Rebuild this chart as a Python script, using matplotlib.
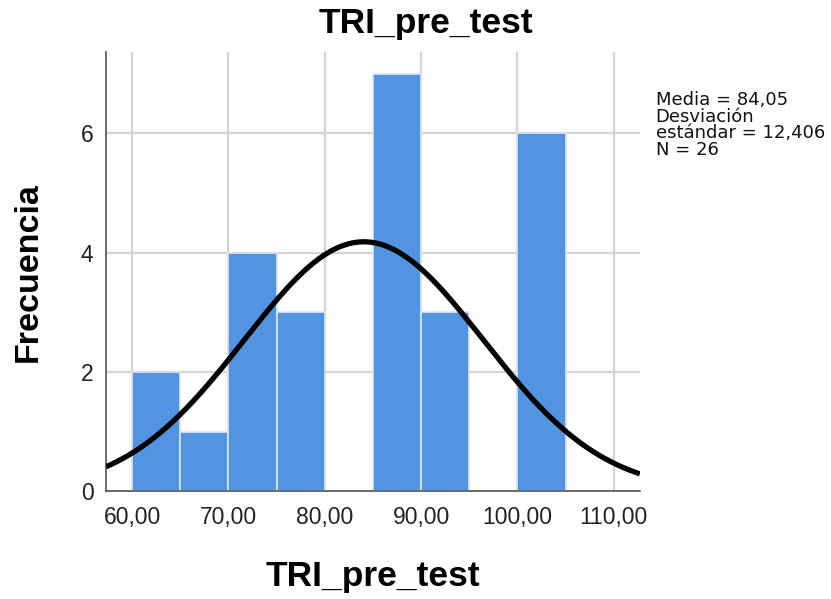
import numpy as np
import matplotlib as mpl
mpl.use('Agg')
import matplotlib.pyplot as plt

plt.rcParams['font.family'] = ['Liberation Sans', 'DejaVu Sans']

bin_edges = [60, 65, 70, 75, 80, 85, 90, 95, 100, 105]
counts = [2, 1, 4, 3, 0, 7, 3, 0, 6]
media = 84.05
desv = 12.406
n = 26
xticks = [60, 70, 80, 90, 100, 110]
yticks = [0, 2, 4, 6]

fig = plt.figure(figsize=(8.31, 5.99), dpi=100)
ax = fig.add_axes([0.1276, 0.180, 0.6424, 0.733])

for x in xticks:
    ax.axvline(x, color='#d4d4d4', lw=1.6, zorder=0)
for y in yticks:
    ax.axhline(y, color='#d4d4d4', lw=1.6, zorder=0)

lefts = bin_edges[:-1]
widths = np.diff(bin_edges)
ax.bar(lefts, counts, width=widths, align='edge', color='#5294e2',
       edgecolor='#dde6f0', linewidth=1.2, zorder=2)

# curva normal escalada a frecuencias
xs = np.linspace(57.3, 112.7, 300)
bw = 5
ys = n * bw / (desv * np.sqrt(2 * np.pi)) * np.exp(-0.5 * ((xs - media) / desv) ** 2)
ax.plot(xs, ys, color='black', lw=3.8, zorder=3, solid_capstyle='butt')

ax.set_xlim(57.3, 112.7)
ax.set_ylim(0, 7.36)
ax.set_xticks(xticks)
ax.set_xticklabels(['%d,00' % v for v in xticks])
ax.set_yticks(yticks)
ax.tick_params(axis='x', length=0, labelsize=16.5, colors='#222222', pad=11)
ax.tick_params(axis='y', length=0, labelsize=16.5, colors='#222222', pad=9)
for s in ['top', 'right']:
    ax.spines[s].set_visible(False)
ax.spines['left'].set_color('#555555')
ax.spines['bottom'].set_color('#555555')
ax.spines['left'].set_linewidth(1.2)
ax.spines['bottom'].set_linewidth(1.2)

fig.text(0.513, 0.960, 'TRI_pre_test', fontsize=25.5, fontweight='bold',
         ha='center', va='center')
ax.set_xlabel('TRI_pre_test', fontsize=25.5, fontweight='bold', labelpad=22)
ax.set_ylabel('Frecuencia', fontsize=24.5, fontweight='bold', labelpad=27)

fig.text(0.789, 0.848, 'Media = 84,05\nDesviación\nestándar = 12,406\nN = 26',
         fontsize=13, va='top', ha='left', linespacing=0.9, color='#111111',
         family='DejaVu Sans')

fig.savefig('out.png', dpi=100)
